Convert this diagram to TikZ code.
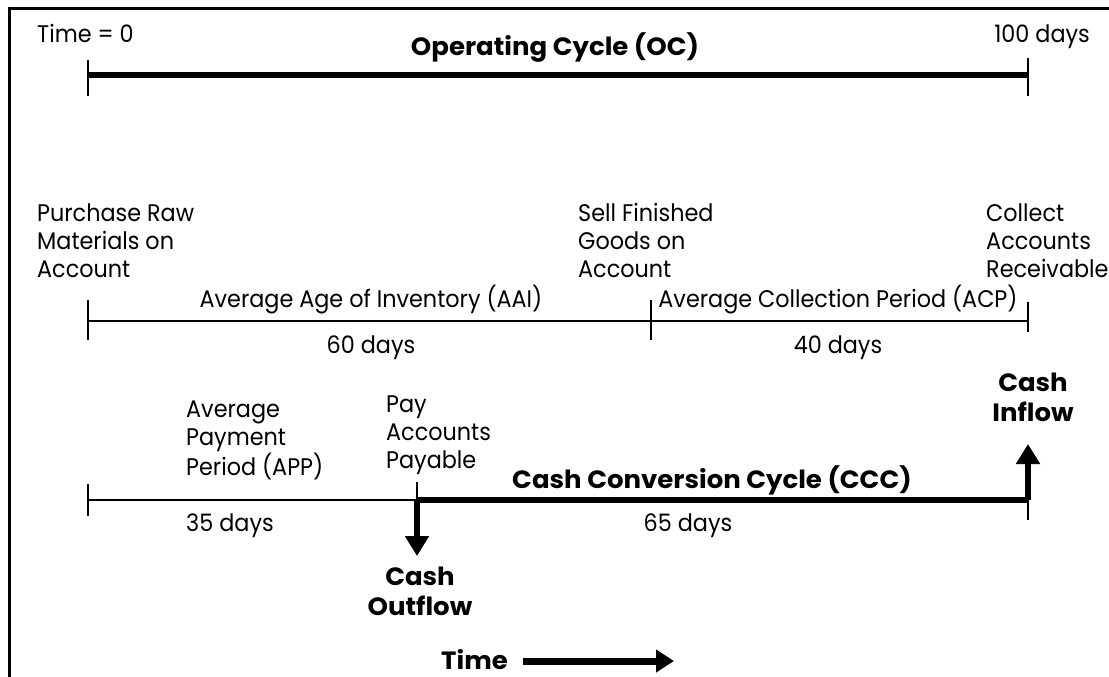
\documentclass[tikz,border=0pt]{standalone}
\usepackage{fontspec}
\setmainfont{Poppins}[FakeStretch=0.93, BoldFeatures={FakeStretch=1.04}]
\usetikzlibrary{arrows.meta}
\begin{document}
\begin{tikzpicture}[x=1pt,y=-1pt,
  lbl/.style={inner sep=0pt, font=\fontsize{24}{28}\selectfont},
  blbl/.style={inner sep=0pt, font=\fontsize{25}{30}\selectfont\bfseries},
  thinline/.style={line width=1.6pt},
  thickbar/.style={line width=6pt},
  tickmark/.style={line width=2pt},
  bigarrow/.style={line width=6pt, -{Triangle[width=23pt,length=20pt]}},
]
\useasboundingbox (0,0) rectangle (1109,677);
\draw[line width=3pt] (1109,8.5) -- (9.5,8.5) -- (9.5,677);

% top row
\node[lbl, anchor=base west] (t0) at (37,43) {Time = 0};
\node[lbl, anchor=base east] (t100) at (1090,43) {100 days};
\node[blbl, anchor=base] (oc) at (555,56) {Operating Cycle (OC)};
\coordinate (oc0) at (88,75);
\coordinate (oc1) at (1028,75);
\coordinate (oc0t) at (88,60); \coordinate (oc0b) at (88,96);
\coordinate (oc1t) at (1028,58); \coordinate (oc1b) at (1028,96);
\draw[thickbar] (oc0) -- (oc1);
\draw[tickmark] (oc0t) -- (oc0b);
\draw[tickmark] (oc1t) -- (oc1b);

% events
\node[lbl, anchor=base west, align=left] (buy) at (37,277) {Purchase Raw\\Materials on\\Account};
\node[lbl, anchor=base west, align=left] (sell) at (578,277) {Sell Finished\\Goods on\\Account};
\node[lbl, anchor=base west, align=left] (collect) at (986,277) {Collect\\Accounts\\Receivable};

% second line
\coordinate (a0) at (88,321); \coordinate (a1) at (651,321); \coordinate (a2) at (1028,321);
\coordinate (a0t) at (88,300); \coordinate (a0b) at (88,340);
\coordinate (a1t) at (651,300); \coordinate (a1b) at (651,340);
\coordinate (a2t) at (1028,302); \coordinate (a2b) at (1028,332);
\draw[thinline] (a0) -- (a2);
\draw[tickmark] (a0t) -- (a0b);
\draw[tickmark] (a1t) -- (a1b);
\draw[tickmark] (a2t) -- (a2b);
\node[lbl, anchor=base] (aai) at (371,307) {Average Age of Inventory (AAI)};
\node[lbl, anchor=base] (acp) at (838,307) {Average Collection Period (ACP)};
\node[lbl, anchor=base] (d60) at (371,353) {60 days};
\node[lbl, anchor=base] (d40) at (838,353) {40 days};

% third line
\node[lbl, anchor=base west, align=left] (app) at (186,475) {Average\\Payment\\Period (APP)};
\node[lbl, anchor=base west, align=left] (pay) at (386,468) {Pay\\Accounts\\Payable};
\node[blbl, anchor=base, align=center] (cin) at (1033,421) {Cash\\Inflow};
\node[blbl, anchor=base] (ccc) at (712,488) {Cash Conversion Cycle (CCC)};
\coordinate (b0) at (88,500); \coordinate (b1) at (417,500); \coordinate (b2) at (1028,500);
\coordinate (b0t) at (88,484); \coordinate (b0b) at (88,516);
\coordinate (b1t) at (417,482);
\coordinate (b2b) at (1028,520);
\coordinate (outtip) at (417,556);
\coordinate (intip) at (1028,444);
\draw[thinline] (b0) -- (b1);
\draw[tickmark] (b0t) -- (b0b);
\draw[tickmark] (b1t) -- (b1);
\draw[tickmark] (b2) -- (b2b);
\draw[thickbar] (b1) -- (b2);
\draw[bigarrow] (b1) -- (outtip);
\draw[bigarrow] (b2) -- (intip);
\node[lbl, anchor=base west] (d35) at (186,531) {35 days};
\node[lbl, anchor=base] (d65) at (688,531) {65 days};
\node[blbl, anchor=base, align=center] (cout) at (420,615) {Cash\\Outflow};

% time arrow
\node[blbl, anchor=base east] (time) at (508,669) {Time};
\coordinate (tstart) at (523,661);
\coordinate (tend) at (674,661);
\draw[line width=7pt, -{Triangle[width=22pt,length=18pt]}] (tstart) -- (tend);
\end{tikzpicture}
\end{document}
